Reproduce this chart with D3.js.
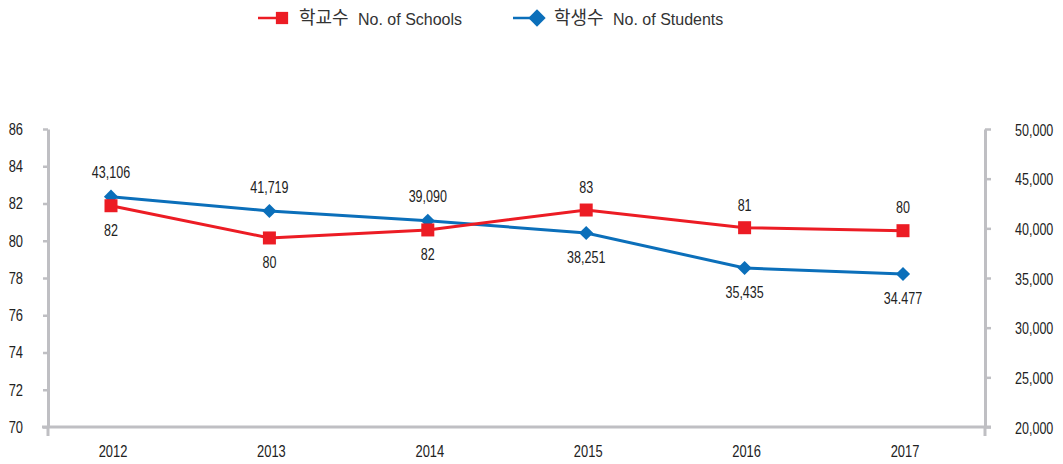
<!DOCTYPE html>
<html>
<head>
<meta charset="utf-8">
<script src="https://cdn.jsdelivr.net/npm/d3@7"></script>
<style>
  body { margin: 0; background: #fff; }
  svg text { font-family: "Liberation Sans", Arial, sans-serif; fill: #222; }
</style>
</head>
<body>
<div id="chart"></div>
<script>
// data
var years = ['2012', '2013', '2014', '2015', '2016', '2017'];
var schools = [81.88, 80.15, 80.58, 81.65, 80.70, 80.54];
var schoolLabels = ['82', '80', '82', '83', '81', '80'];
var students = [43185, 41745, 40768, 39530, 36007, 35403];
var studentLabels = ['43,106', '41,719', '39,090', '38,251', '35,435', '34.477'];
var leftTicks = [70, 72, 74, 76, 78, 80, 82, 84, 86];
var rightTicks = [20000, 25000, 30000, 35000, 40000, 45000, 50000];

var width = 1063, height = 464;
var red = '#ec1c24', blue = '#0b6fba', axisColor = '#bfbfc3';
var narrow = 0.76; // the original uses a condensed face

var svg = d3.select('#chart').append('svg')
	.attr('width', width)
	.attr('height', height);

var x = d3.scalePoint().domain(years).range([111, 903]);
var yL = d3.scaleLinear().domain([70, 86]).range([427, 129]);
var yR = d3.scaleLinear().domain([20000, 50000]).range([427, 129]);

// squeeze a text horizontally around its own anchor point
function squeeze(sel, fx, fy){
	sel.attr('x', 0).attr('y', 0)
		.attr('transform', function(d, i){
			return 'translate(' + fx(d, i) + ',' + fy(d, i) + ') scale(' + narrow + ',1)';
		});
}

// left axis
var gL = svg.append('g').attr('transform', 'translate(48,0)')
	.call(d3.axisLeft(yL).tickValues(leftTicks).tickSize(5).tickSizeOuter(0));
// right axis
var gR = svg.append('g').attr('transform', 'translate(985,0)')
	.call(d3.axisRight(yR).tickValues(rightTicks).tickSize(6).tickSizeOuter(0)
		.tickFormat(d3.format(',')));

[gL, gR].forEach(function(g){
	g.select('.domain').attr('stroke', axisColor).attr('stroke-width', 3);
	g.selectAll('.tick line').attr('stroke', axisColor).attr('stroke-width', 2.5);
	g.selectAll('.tick text').style('font-size', '17px').style('fill', '#222');
});
squeeze(gL.selectAll('.tick text'), function(){ return -25; }, function(){ return 0; });
squeeze(gR.selectAll('.tick text'), function(){ return 30; }, function(){ return 1; });
gR.selectAll('.tick text').style('font-size', '16.5px');

// stubs below the baseline, and the baseline itself
svg.append('line').attr('x1', 48).attr('x2', 48).attr('y1', 427).attr('y2', 436)
	.attr('stroke', axisColor).attr('stroke-width', 3);
svg.append('line').attr('x1', 985).attr('x2', 985).attr('y1', 427).attr('y2', 436)
	.attr('stroke', axisColor).attr('stroke-width', 3);
svg.append('line').attr('x1', 42).attr('x2', 991).attr('y1', 427).attr('y2', 427)
	.attr('stroke', axisColor).attr('stroke-width', 3);

// year labels
var yt = svg.append('g').selectAll('text').data(years).enter().append('text')
	.attr('text-anchor', 'middle')
	.attr('dy', '0.35em')
	.style('font-size', '17px')
	.text(function(d){ return d; });
squeeze(yt, function(d){ return x(d) + 2; }, function(){ return 451; });

// lines
var lineS = d3.line().x(function(d, i){ return x(years[i]); }).y(function(d){ return yL(d); });
var lineT = d3.line().x(function(d, i){ return x(years[i]); }).y(function(d){ return yR(d); });

svg.append('path').datum(students).attr('d', lineT)
	.attr('fill', 'none').attr('stroke', blue).attr('stroke-width', 3);
svg.append('path').datum(schools).attr('d', lineS)
	.attr('fill', 'none').attr('stroke', red).attr('stroke-width', 3);

// markers
svg.append('g').selectAll('path').data(students).enter().append('path')
	.attr('d', d3.symbol().type(d3.symbolSquare).size(100))
	.attr('transform', function(d, i){ return 'translate(' + x(years[i]) + ',' + yR(d) + ') rotate(45)'; })
	.attr('fill', blue);
svg.append('g').selectAll('rect').data(schools).enter().append('rect')
	.attr('x', function(d, i){ return x(years[i]) - 6.5; })
	.attr('y', function(d){ return yL(d) - 6.5; })
	.attr('width', 13).attr('height', 13)
	.attr('fill', red);

// value labels go on the outer side of each pair of points
function above(i, self){
	var s = yL(schools[i]), t = yR(students[i]);
	return self === 's' ? s < t : t < s;
}

var sl = svg.append('g').selectAll('text').data(schoolLabels).enter().append('text')
	.attr('dy', '0.35em')
	.attr('text-anchor', 'middle')
	.style('font-size', '16.5px')
	.text(function(d){ return d; });
squeeze(sl, function(d, i){ return x(years[i]); },
	function(d, i){ return yL(schools[i]) + (above(i, 's') ? -23 : 24); });

var tl = svg.append('g').selectAll('text').data(studentLabels).enter().append('text')
	.attr('dy', '0.35em')
	.attr('text-anchor', 'middle')
	.style('font-size', '16.5px')
	.text(function(d){ return d; });
squeeze(tl, function(d, i){ return x(years[i]); },
	function(d, i){ return yR(students[i]) + (above(i, 't') ? -24 : 24); });

// legend
var legend = [
	{ ko: '학교수', en: 'No. of Schools', color: red, shape: 'square', x: 258 },
	{ ko: '학생수', en: 'No. of Students', color: blue, shape: 'diamond', x: 513 }
];
var lg = svg.append('g').selectAll('g').data(legend).enter().append('g')
	.attr('transform', function(d){ return 'translate(' + d.x + ',18)'; });
lg.append('line').attr('x1', 0).attr('x2', 26).attr('y1', 0).attr('y2', 0)
	.attr('stroke', function(d){ return d.color; }).attr('stroke-width', 2.5);
lg.append('path')
	.attr('d', d3.symbol().type(d3.symbolSquare).size(150))
	.attr('transform', function(d){ return d.shape === 'diamond' ? 'translate(24,0) rotate(45)' : 'translate(24,0)'; })
	.attr('fill', function(d){ return d.color; });
lg.append('text').attr('x', 41).attr('y', 0).attr('dy', '0.36em')
	.style('font-family', '"Noto Sans CJK KR", sans-serif').style('font-size', '18px').style('fill', '#333')
	.text(function(d){ return d.ko; });
lg.append('text').attr('x', 100).attr('y', 1).attr('dy', '0.35em')
	.style('font-size', '16px').style('fill', '#333')
	.text(function(d){ return d.en; });
</script>
</body>
</html>
